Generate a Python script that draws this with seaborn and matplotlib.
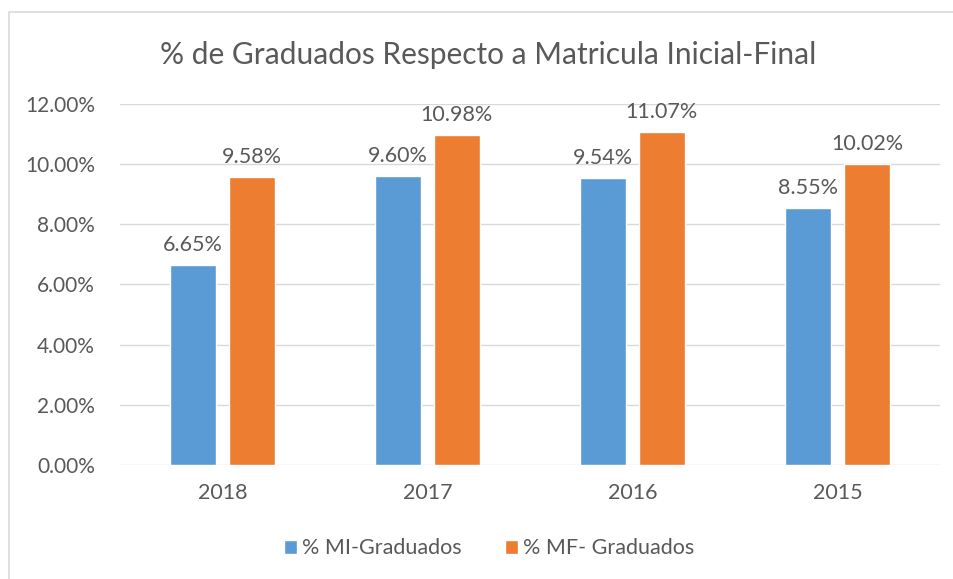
import pandas as pd
import matplotlib.pyplot as plt
import seaborn as sns
from matplotlib.patches import Rectangle

years = ["2018", "2017", "2016", "2015"]
mi_graduados = [6.65, 9.60, 9.54, 8.55]
mf_graduados = [9.58, 10.98, 11.07, 10.02]
series_names = ["% MI-Graduados", "% MF- Graduados"]
yticks = [0, 2, 4, 6, 8, 10, 12]

df = pd.DataFrame({
    "year": years * 2,
    "value": mi_graduados + mf_graduados,
    "serie": [series_names[0]] * 4 + [series_names[1]] * 4,
})

sns.set_style("white")
plt.rcParams["font.family"] = ["Lato", "DejaVu Sans"]
gray = "#595959"

fig = plt.figure(figsize=(9.54, 5.79), dpi=100)
ax = fig.add_axes([0.1258, 0.1969, 0.8595, 0.6235])

sns.barplot(data=df, x="year", y="value", hue="serie", order=years,
            palette=["#5b9bd5", "#ed7d31"], width=0.574, gap=0.22,
            saturation=1, ax=ax, legend=True)

for cont in ax.containers:
    ax.bar_label(cont, labels=[f"{v:.2f}%" for v in cont.datavalues],
                 padding=7, fontsize=15.5, color=gray)

ax.set_ylim(0, 12)
ax.set_xlim(-0.5, 3.5)
ax.set_yticks(yticks)
ax.set_yticklabels([f"{t:.2f}%" for t in yticks], fontsize=15, color=gray)
ax.tick_params(axis="x", labelsize=15.5, labelcolor=gray, pad=13, length=0)
ax.tick_params(axis="y", pad=18, length=0)
ax.yaxis.grid(True, color="#d9d9d9", linewidth=1)
ax.set_axisbelow(True)
for s in ax.spines.values():
    s.set_visible(False)
ax.set_xlabel("")
ax.set_ylabel("")

fig.text(0.512, 0.905, "% de Graduados Respecto a Matricula Inicial-Final",
         ha="center", va="center", fontsize=21.5, color=gray)

handles, labels = ax.get_legend_handles_labels()
ax.legend(handles, labels, loc="center", bbox_to_anchor=(0.513, 0.053),
          bbox_transform=fig.transFigure, ncol=2, frameon=False,
          fontsize=15.5, labelcolor=gray, handlelength=0.6, handleheight=0.6,
          handletextpad=0.25, columnspacing=2.0)

fig.patches.append(Rectangle((9 / 954, -0.1), 1.1, 1 - 12 / 579 + 0.1,
                             transform=fig.transFigure, fill=False,
                             edgecolor="#d9d9d9", linewidth=1.2))

fig.savefig("out.png", dpi=100)
